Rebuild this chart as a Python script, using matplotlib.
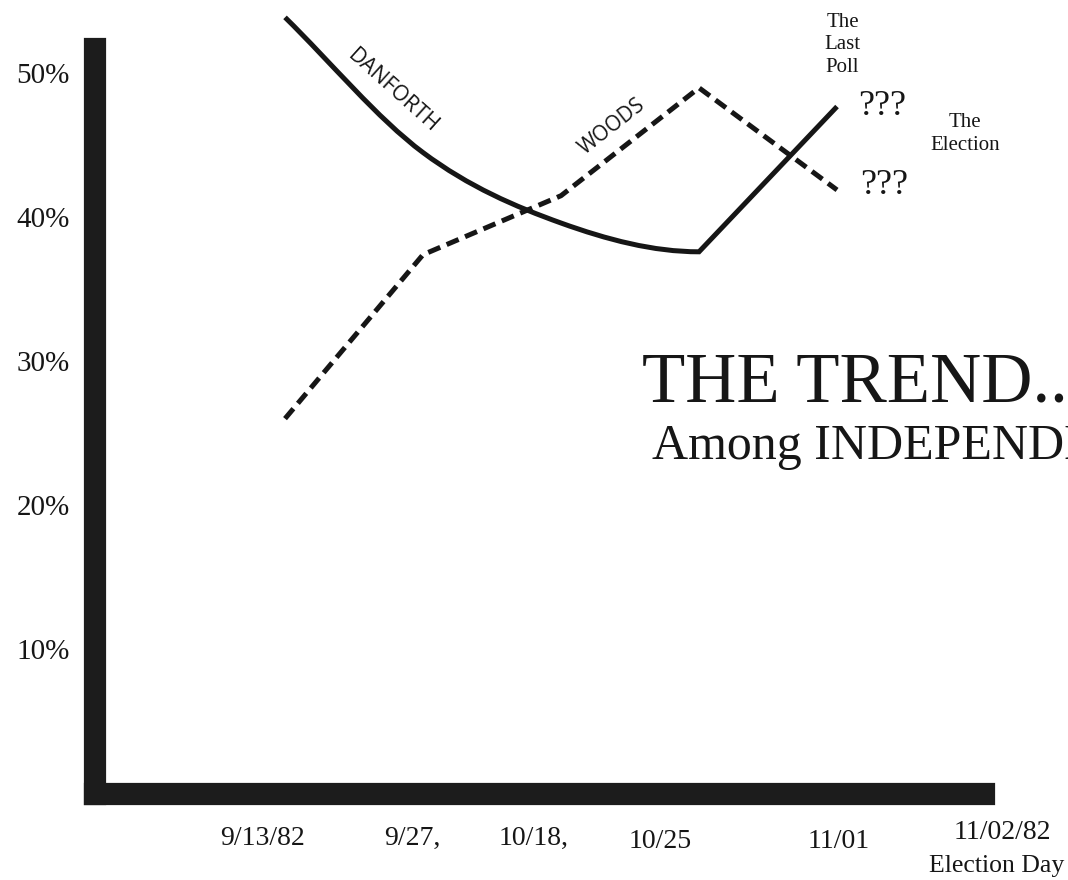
import matplotlib
matplotlib.use("Agg")
import matplotlib.pyplot as plt
from matplotlib.path import Path
from matplotlib.patches import PathPatch

# ---- data ----
poll_dates = ["9/13/82", "9/27", "10/18", "10/25", "11/01"]
danforth = [53.9, 44.5, 39.6, 37.6, 47.7]
woods = [26.0, 37.4, 41.5, 49.0, 41.9]
x_labels = ["9/13/82", "9/27,", "10/18,", "10/25", "11/01", "11/02/82"]
y_ticks = [10, 20, 30, 40, 50]
y_labels = ["10%", "20%", "30%", "40%", "50%"]

# ---- styling / layout ----
W, H, DPI = 1068, 880, 100
fig = plt.figure(figsize=(W / DPI, H / DPI), dpi=DPI, facecolor="white")
left_px, right_px, bottom_px, top_px = 95, 984, 794, 49
ax = fig.add_axes([left_px / W, 1 - bottom_px / H,
                   (right_px - left_px) / W, (bottom_px - top_px) / H])
ax.set_facecolor("white")

xpos = list(range(len(poll_dates)))
ax.set_xlim(-1.377, 5.065)
ax.set_ylim(-0.1, 51.7)

serif = "Liberation Serif"
sans = "Open Sans"
ink = "#161616"

# thick L-shaped axes
for side in ["top", "right"]:
    ax.spines[side].set_visible(False)
for side in ["left", "bottom"]:
    sp = ax.spines[side]
    sp.set_linewidth(16)
    sp.set_color("#1c1c1c")
    sp.set_capstyle("projecting")

ax.set_xticks([])
ax.set_yticks(y_ticks)
ax.set_yticklabels(y_labels, fontfamily=serif, fontsize=21, color=ink)
ax.tick_params(axis="y", length=0, pad=18)

# Danforth: hand-drawn style smooth curve through the polls up to the
# turning point (10/25), then a straight rise to 11/01.
turn = danforth.index(min(danforth))
n = turn + 1
px, py = xpos[:n], danforth[:n]
tang = []
for i in range(n):
    if i == 0:
        tang.append((px[1] - px[0], py[1] - py[0]))
    elif i == n - 1:
        tang.append((px[i] - px[i - 1], 0.0))  # flat at the turning point
    else:
        tang.append(((px[i + 1] - px[i - 1]) / 2, (py[i + 1] - py[i - 1]) / 2))
verts = [(px[0], py[0])]
codes = [Path.MOVETO]
for i in range(n - 1):
    verts += [(px[i] + tang[i][0] / 3, py[i] + tang[i][1] / 3),
              (px[i + 1] - tang[i + 1][0] / 3, py[i + 1] - tang[i + 1][1] / 3),
              (px[i + 1], py[i + 1])]
    codes += [Path.CURVE4] * 3
for i in range(n, len(xpos)):
    verts.append((xpos[i], danforth[i]))
    codes.append(Path.LINETO)
ax.add_patch(PathPatch(Path(verts, codes), facecolor="none", edgecolor=ink,
                       lw=3.6, capstyle="butt", joinstyle="miter",
                       clip_on=False, zorder=3))

# Woods: dashed
ax.plot(xpos, woods, color=ink, lw=3.6, linestyle=(0, (2.6, 1.4)),
        dash_capstyle="butt", clip_on=False, zorder=3)

# x labels (manual placement under the bar)
label_x = [-0.16, 0.92, 1.80, 2.72, 4.01, 5.20]
label_y = [-3.2, -3.2, -3.2, -3.4, -3.4, -2.8]
for lx, ly, lab in zip(label_x, label_y, x_labels):
    ax.text(lx, ly, lab, ha="center", va="center", fontfamily=serif,
            fontsize=20, color=ink, clip_on=False)
ax.text(5.16, -5.1, "Election Day", ha="center", va="center",
        fontfamily=serif, fontsize=18.5, color=ink, clip_on=False)

# series labels
ax.text(0.78, 48.8, "DANFORTH", rotation=-42, ha="center", va="center",
        fontfamily=sans, fontsize=15.5, color=ink, rotation_mode="anchor")
ax.text(2.37, 46.3, "WOODS", rotation=38, ha="center", va="center",
        fontfamily=sans, fontsize=15, color=ink, rotation_mode="anchor")

# annotations
ax.text(4.04, 52.0, "The\nLast\nPoll", ha="center", va="center",
        fontfamily=serif, fontsize=15, color=ink, linespacing=1.25,
        clip_on=False)
ax.text(4.33, 47.7, "???", ha="center", va="center", fontfamily=serif,
        fontsize=26, color=ink, clip_on=False)
ax.text(4.34, 42.2, "???", ha="center", va="center", fontfamily=serif,
        fontsize=26, color=ink, clip_on=False)
ax.text(4.93, 45.8, "The\nElection", ha="center", va="center",
        fontfamily=serif, fontsize=15, color=ink, linespacing=1.25,
        clip_on=False)

# title block
ax.text(2.59, 27.2, "THE TREND...", ha="left", va="baseline",
        fontfamily=serif, fontsize=51, color=ink, clip_on=False)
ax.text(2.66, 23.2, "Among INDEPENDENTS", ha="left", va="baseline",
        fontfamily=serif, fontsize=36, color=ink, clip_on=False)

fig.savefig("out.png", dpi=DPI, facecolor="white")
